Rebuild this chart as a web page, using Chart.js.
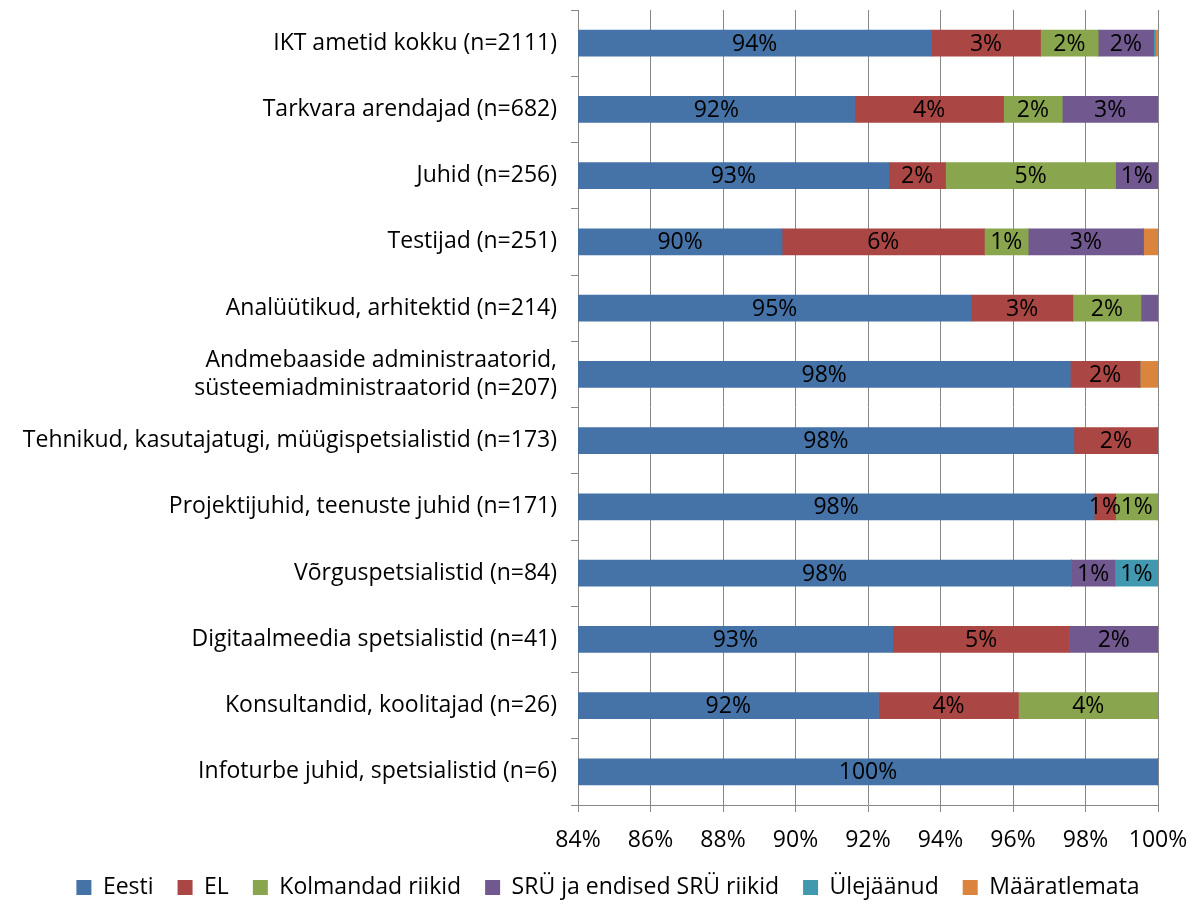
<!DOCTYPE html>
<html>
<head>
<meta charset="utf-8">
<script src="https://cdn.jsdelivr.net/npm/chart.js@4"></script>
<style>
  html, body { margin: 0; padding: 0; background: #fff; }
  #wrap { width: 1198px; height: 906px; }
</style>
</head>
<body>
<div id="wrap"><canvas id="myChart" width="1198" height="906"></canvas></div>
<script>
// categories (top to bottom)
const categories = [
  'IKT ametid kokku (n=2111)',
  'Tarkvara arendajad (n=682)',
  'Juhid (n=256)',
  'Testijad (n=251)',
  'Analüütikud, arhitektid (n=214)',
  ['Andmebaaside administraatorid,', 'süsteemiadministraatorid (n=207)'],
  'Tehnikud, kasutajatugi, müügispetsialistid (n=173)',
  'Projektijuhid, teenuste juhid (n=171)',
  'Võrguspetsialistid (n=84)',
  'Digitaalmeedia spetsialistid (n=41)',
  'Konsultandid, koolitajad (n=26)',
  'Infoturbe juhid, spetsialistid (n=6)'
];

// shares in %
const eesti        = [93.75, 91.63, 92.57, 89.63, 94.85, 97.58, 97.68, 98.24, 97.61, 92.68, 92.29, 100];
const el           = [3.01, 4.11, 1.57, 5.58, 2.80, 1.92, 2.32, 0.59, 0, 4.88, 3.86, 0];
const kolmandad    = [1.59, 1.62, 4.69, 1.21, 1.88, 0, 0, 1.17, 0, 0, 3.85, 0];
const sru          = [1.53, 2.64, 1.17, 3.18, 0.47, 0, 0, 0, 1.20, 2.44, 0, 0];
const ulejaanud    = [0.05, 0, 0, 0, 0, 0, 0, 0, 1.19, 0, 0, 0];
const maaratlemata = [0.07, 0, 0, 0.40, 0, 0.50, 0, 0, 0, 0, 0, 0];

const seriesNames = ['Eesti', 'EL', 'Kolmandad riikid', 'SRÜ ja endised SRÜ riikid', 'Ülejäänud', 'Määratlemata'];
const seriesColors = ['#4572A7', '#AA4643', '#89A54E', '#71588F', '#4198AF', '#DB843D'];
const seriesData = [eesti, el, kolmandad, sru, ulejaanud, maaratlemata];

const xTicks = [84, 86, 88, 90, 92, 94, 96, 98, 100];

const FONT = '"Open Sans", sans-serif';
const FSIZE = 23;

// draws the % labels in the middle of the visible part of each segment
const barLabels = {
  id: 'barLabels',
  afterLayout(chart) {
    // let x tick labels run below the axis box, nudge legend like the original
    chart.scales.x.bottom = chart.height;
    chart.legend.left += 29;
    chart.legend.right += 29;
    chart.legend.top += 3;
    chart.legend.bottom += 3;
  },
  afterDatasetsDraw(chart) {
    const ctx = chart.ctx;
    const area = chart.chartArea;
    ctx.save();
    ctx.font = FSIZE + 'px ' + FONT;
    ctx.fillStyle = '#000';
    ctx.textAlign = 'center';
    ctx.textBaseline = 'middle';
    chart.data.datasets.forEach((ds, di) => {
      const meta = chart.getDatasetMeta(di);
      meta.data.forEach((bar, i) => {
        const v = ds.data[i];
        if (v < 0.55) return;
        const left = Math.max(Math.min(bar.x, bar.base), area.left);
        const right = Math.min(Math.max(bar.x, bar.base), area.right);
        ctx.fillText(Math.round(v) + '%', (left + right) / 2, bar.y + 1);
      });
    });
    ctx.restore();
  }
};

const ctx = document.getElementById('myChart').getContext('2d');
new Chart(ctx, {
  type: 'bar',
  data: {
    labels: categories,
    datasets: seriesNames.map((name, i) => ({
      label: name,
      data: seriesData[i],
      backgroundColor: seriesColors[i],
      borderWidth: 0,
      barThickness: 26
    }))
  },
  options: {
    indexAxis: 'y',
    responsive: false,
    animation: false,
    layout: { padding: { top: 10, right: 40, bottom: 0, left: 0 } },
    plugins: {
      legend: {
        position: 'bottom',
        labels: {
          color: '#000',
          font: { family: FONT, size: FSIZE },
          boxWidth: 15,
          boxHeight: 15,
          padding: 24
        }
      },
      tooltip: { enabled: false }
    },
    scales: {
      x: {
        stacked: true,
        min: 84,
        max: 100,
        afterBuildTicks: (scale) => { scale.ticks = xTicks.map(v => ({ value: v })); },
        afterFit: (scale) => {
          scale.height = 44;
          scale.paddingLeft = 0;
          scale.paddingRight = 0;
        },
        ticks: {
          color: '#000',
          font: { family: FONT, size: FSIZE },
          padding: 15,
          maxRotation: 0,
          callback: (v) => v + '%'
        },
        grid: { color: '#878787', lineWidth: 1, tickLength: 7 },
        border: { color: '#878787' }
      },
      y: {
        stacked: true,
        afterFit: (scale) => {
          scale.width = 578;
          scale.paddingTop = 0;
          scale.paddingBottom = 0;
        },
        ticks: {
          color: '#000',
          font: { family: FONT, size: FSIZE, lineHeight: 1.2 },
          padding: 14
        },
        grid: { drawOnChartArea: false, offset: true, color: '#878787', tickLength: 7 },
        border: { color: '#878787' }
      }
    }
  },
  plugins: [barLabels]
});
</script>
</body>
</html>
